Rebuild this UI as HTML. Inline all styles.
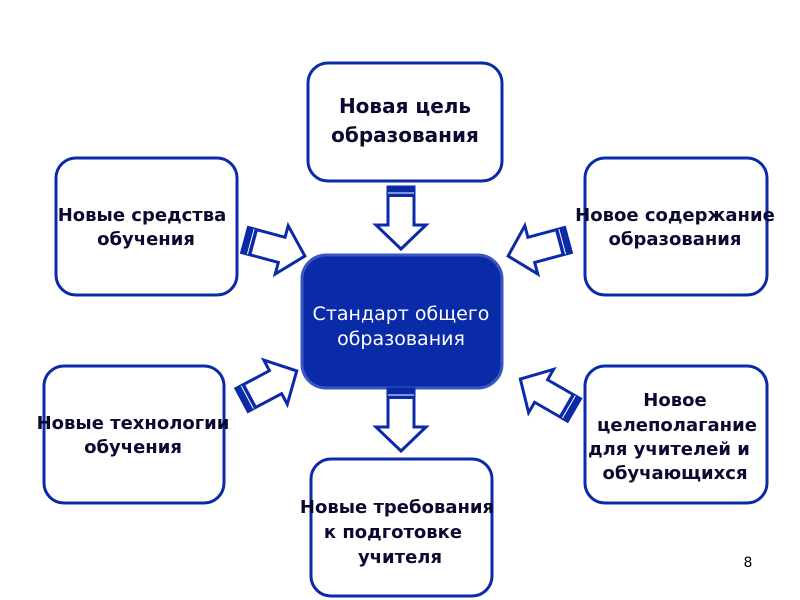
<!DOCTYPE html>
<html><head><meta charset="utf-8"><style>
html,body{margin:0;padding:0;background:#fff;width:800px;height:600px;overflow:hidden}
text{font-family:"DejaVu Sans","Liberation Sans",sans-serif;font-weight:bold;font-size:18px;fill:#0a0a30;text-anchor:middle}
</style></head><body>
<svg width="800" height="600" viewBox="0 0 800 600">
<defs>
<g id="arr">
<polygon points="0,-13 38,-13 38,-25 62,0 38,25 38,13 0,13" fill="#fff" stroke="#0a2aa8" stroke-width="3" stroke-linejoin="miter"/>
<rect x="0" y="-13" width="10" height="26" fill="#0a2aa8"/>
<line x1="6" y1="-13" x2="6" y2="13" stroke="#fff" stroke-width="1"/>
</g>
</defs>
<g fill="#fff" stroke="#0a2aa8" stroke-width="3">
<rect x="308" y="63" width="194" height="118" rx="20"/>
<rect x="56" y="158" width="181" height="137" rx="20"/>
<rect x="585" y="158" width="182" height="137" rx="20"/>
<rect x="44" y="366" width="180" height="137" rx="20"/>
<rect x="585" y="366" width="182" height="137" rx="20"/>
<rect x="311" y="459" width="181" height="137" rx="20"/>
</g>
<rect x="302" y="255" width="200" height="133" rx="24" fill="#0a2ba8" stroke="#3a57c0" stroke-width="3"/>
<use href="#arr" transform="translate(401,187) rotate(90)"/>
<use href="#arr" transform="translate(401,389) rotate(90)"/>
<use href="#arr" transform="translate(245,240) rotate(15)"/>
<use href="#arr" transform="translate(242,400) rotate(-28)"/>
<use href="#arr" transform="translate(568,240) rotate(165)"/>
<use href="#arr" transform="translate(574,410) rotate(-150)"/>
<text x="405" y="113" style="font-size:20px">Новая цель</text>
<text x="405" y="142" style="font-size:20px">образования</text>
<text x="142" y="221">Новые средства</text>
<text x="146" y="245">обучения</text>
<text x="675" y="221">Новое содержание</text>
<text x="675" y="245">образования</text>
<text x="133" y="429">Новые технологии</text>
<text x="133" y="453">обучения</text>
<text x="675" y="406">Новое</text>
<text x="677" y="431">целеполагание</text>
<text x="669" y="455">для учителей и</text>
<text x="675" y="479">обучающихся</text>
<text x="397" y="513">Новые требования</text>
<text x="393" y="538">к подготовке</text>
<text x="400" y="563">учителя</text>
<text x="401" y="320" style="font-weight:normal;font-size:19px;fill:#fff">Стандарт общего</text>
<text x="401" y="345" style="font-weight:normal;font-size:19px;fill:#fff">образования</text>
<text x="748" y="567" style="font-weight:normal;font-size:14px;fill:#000">8</text>
</svg>
</body></html>
